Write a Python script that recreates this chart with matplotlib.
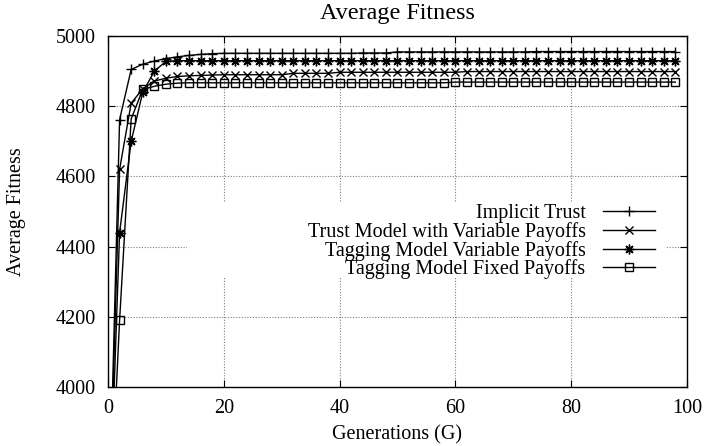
import matplotlib
matplotlib.use("Agg")
import matplotlib.pyplot as plt
from matplotlib.patches import Rectangle

# generations sampled every 2
gens = [0, 2, 4, 6, 8, 10, 12, 14, 16, 18,
        20, 22, 24, 26, 28, 30, 32, 34, 36, 38,
        40, 42, 44, 46, 48, 50, 52, 54, 56, 58,
        60, 62, 64, 66, 68, 70, 72, 74, 76, 78,
        80, 82, 84, 86, 88, 90, 92, 94, 96, 98]

implicit_trust = [3500, 4762, 4905, 4920, 4929, 4936, 4941, 4945, 4948, 4950,
                  4951, 4951, 4951, 4951, 4951, 4951, 4951, 4951, 4951, 4951,
                  4951, 4951, 4952, 4952, 4952, 4955, 4955, 4955, 4955, 4955,
                  4955, 4955, 4955, 4955, 4955, 4955, 4955, 4956, 4956, 4956,
                  4956, 4956, 4956, 4956, 4956, 4956, 4956, 4956, 4956, 4956]

trust_variable = [3500, 4620, 4809, 4850, 4872, 4880, 4885, 4887, 4888, 4889,
                  4890, 4890, 4890, 4890, 4890, 4890, 4894, 4894, 4894, 4894,
                  4897, 4897, 4897, 4897, 4897, 4897, 4897, 4897, 4897, 4897,
                  4897, 4899, 4899, 4899, 4899, 4899, 4899, 4899, 4899, 4899,
                  4899, 4899, 4899, 4899, 4899, 4899, 4899, 4899, 4899, 4899]

tagging_variable = [3500, 4440, 4700, 4840, 4900, 4928, 4930, 4930, 4930, 4930,
                    4930, 4930, 4930, 4930, 4930, 4930, 4930, 4930, 4930, 4930,
                    4930, 4930, 4930, 4930, 4930, 4930, 4930, 4930, 4930, 4930,
                    4930, 4930, 4930, 4930, 4930, 4930, 4930, 4930, 4930, 4930,
                    4930, 4930, 4930, 4930, 4930, 4930, 4930, 4930, 4930, 4930]

tagging_fixed = [3500, 4190, 4764, 4848, 4857, 4863, 4866, 4867, 4867, 4867,
                 4867, 4867, 4867, 4867, 4867, 4867, 4867, 4867, 4867, 4867,
                 4867, 4867, 4867, 4867, 4867, 4867, 4867, 4867, 4867, 4867,
                 4869, 4869, 4869, 4869, 4869, 4869, 4869, 4869, 4869, 4869,
                 4869, 4869, 4869, 4869, 4869, 4869, 4869, 4869, 4869, 4869]

labels = ["Implicit Trust",
          "Trust Model with Variable Payoffs",
          "Tagging Model Variable Payoffs",
          "Tagging Model Fixed Payoffs"]

x_ticks = [0, 20, 40, 60, 80, 100]
y_ticks = [4000, 4200, 4400, 4600, 4800, 5000]

plt.rcParams['font.family'] = ['Liberation Serif', 'DejaVu Serif']
plt.rcParams['font.size'] = 14.5

fig = plt.figure(figsize=(7.06, 4.46), dpi=100)
ax = fig.add_axes([0.153, 0.1323, 0.820, 0.7867])

ax.grid(True, color='0.5', linestyle=(0, (1, 1.5)), linewidth=0.8, zorder=0)
ax.set_axisbelow(True)

# gnuplot blanks the grid behind the key
ax.add_patch(Rectangle((0.136, 0.313), 0.827, 0.214, transform=ax.transAxes,
                       facecolor='white', edgecolor='none', zorder=1))

ax.plot(gens, implicit_trust, color='black', lw=1.0, marker='+', ms=7.5,
        mew=1.0, label=labels[0], zorder=3)
ax.plot(gens, trust_variable, color='black', lw=1.0, marker='x', ms=5.5,
        mew=1.0, label=labels[1], zorder=3)
ax.plot(gens, tagging_variable, color='black', lw=1.0, marker=(8, 2, 0), ms=7,
        mew=1.0, label=labels[2], zorder=3)
ax.plot(gens, tagging_fixed, color='black', lw=1.0, marker='s', ms=5.5,
        mew=1.0, mfc='none', label=labels[3], zorder=3)

ax.set_xlim(0, 100)
ax.set_ylim(4000, 5000)
ax.set_xticks(x_ticks)
ax.set_yticks(y_ticks)
ax.tick_params(direction='in', top=True, right=True, length=5, width=0.8)
ax.tick_params(axis='y', pad=9)
ax.tick_params(axis='x', pad=9)
for s in ax.spines.values():
    s.set_linewidth(1.0)

ax.set_title("Average Fitness", pad=12)
ax.set_xlabel("Generations (G)", labelpad=5)
ax.set_ylabel("Average Fitness", labelpad=21)

leg = ax.legend(loc='center right', bbox_to_anchor=(0.945, 0.414), frameon=False,
                markerfirst=False, handlelength=2.6, handletextpad=0.85,
                labelspacing=-0.055, borderpad=0, borderaxespad=0)

fig.savefig("out.png", dpi=100)
